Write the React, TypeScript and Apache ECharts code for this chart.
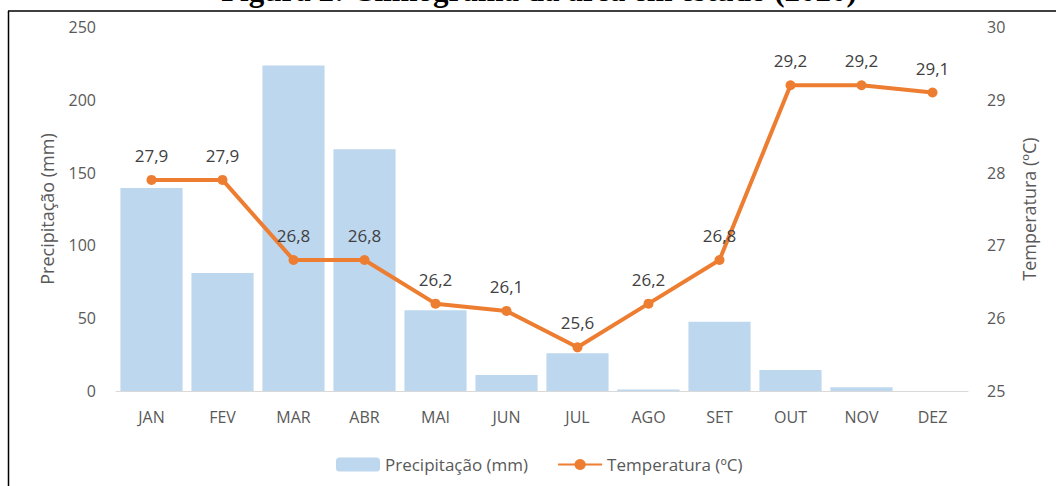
import React, { useEffect, useRef } from "react";
import * as echarts from "echarts";

const months = ["JAN", "FEV", "MAR", "ABR", "MAI", "JUN", "JUL", "AGO", "SET", "OUT", "NOV", "DEZ"];
const precipitation = [139.5, 81, 223.5, 166, 55.5, 11, 26, 1, 47.5, 14.5, 2.5, 0];
const temperature = [27.9, 27.9, 26.8, 26.8, 26.2, 26.1, 25.6, 26.2, 26.8, 29.2, 29.2, 29.1];
const title = "Figura 2: Climograma da área em estudo (2020)";

const FONT = "'Open Sans', 'Noto Sans', sans-serif";

export default function App() {
  const ref = useRef<HTMLDivElement>(null);
  useEffect(() => {
    if (!ref.current) return;
    const chart = echarts.init(ref.current, undefined, { renderer: "svg" });
    chart.setOption({
      animation: false,
      backgroundColor: "#ffffff",
      textStyle: { fontFamily: FONT },
      graphic: [
        {
          type: "text",
          x: 539,
          y: -25,
          style: {
            text: title,
            font: "bold 31px 'Liberation Serif', 'Times New Roman', serif",
            fill: "#000000",
            align: "center",
            verticalAlign: "top",
          },
        },
        { type: "line", shape: { x1: 8, y1: 11, x2: 1056, y2: 11 }, style: { stroke: "#000000", lineWidth: 1.5 } },
        { type: "line", shape: { x1: 8.5, y1: 11, x2: 8.5, y2: 486 }, style: { stroke: "#000000", lineWidth: 1.5 } },
      ],
      grid: { left: 116, right: 88, top: 27, bottom: 95 },
      legend: {
        top: 451,
        left: 331,
        itemWidth: 44,
        itemHeight: 14,
        itemGap: 29,
        textStyle: { color: "#595959", fontSize: 17, fontFamily: FONT },
        data: ["Precipitação (mm)", "Temperatura (ºC)"],
      },
      xAxis: {
        type: "category",
        data: months,
        axisLine: { lineStyle: { color: "#D9D9D9", width: 1 } },
        axisTick: { show: false },
        axisLabel: { color: "#595959", fontSize: 16, margin: 18 },
      },
      yAxis: [
        {
          type: "value",
          min: 0,
          max: 250,
          interval: 50,
          name: "Precipitação (mm)",
          nameLocation: "middle",
          nameGap: 60,
          nameTextStyle: { color: "#595959", fontSize: 18 },
          axisLine: { show: false },
          axisTick: { show: false },
          splitLine: { show: false },
          axisLabel: { color: "#595959", fontSize: 16, margin: 20 },
        },
        {
          type: "value",
          min: 25,
          max: 30,
          interval: 1,
          name: "Temperatura (ºC)",
          nameLocation: "middle",
          nameGap: 52,
          nameRotate: 90,
          nameTextStyle: { color: "#595959", fontSize: 18 },
          axisLine: { show: false },
          axisTick: { show: false },
          splitLine: { show: false },
          axisLabel: { color: "#595959", fontSize: 16, margin: 19 },
        },
      ],
      series: [
        {
          name: "Precipitação (mm)",
          type: "bar",
          data: precipitation,
          yAxisIndex: 0,
          barCategoryGap: "12.5%",
          itemStyle: { color: "#BDD7EE" },
        },
        {
          name: "Temperatura (ºC)",
          type: "line",
          data: temperature,
          yAxisIndex: 1,
          symbol: "circle",
          symbolSize: 10,
          lineStyle: { color: "#ED7D31", width: 4 },
          itemStyle: { color: "#ED7D31" },
          label: {
            show: true,
            position: "top",
            distance: 11,
            color: "#404040",
            fontSize: 17,
            formatter: (p: any) => String(p.value).replace(".", ","),
          },
        },
      ],
    });
    return () => chart.dispose();
  }, []);
  return (
    <div
      ref={ref}
      style={{ position: "absolute", left: 0, top: 0, width: 1056, height: 486 }}
    />
  );
}
